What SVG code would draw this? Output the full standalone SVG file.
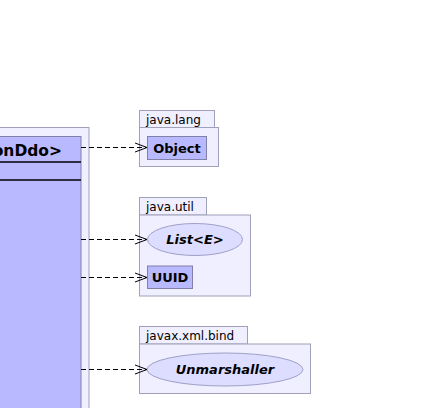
<svg xmlns="http://www.w3.org/2000/svg" width="423" height="408" viewBox="0 0 423 408">
<defs>
<style>
.pkg{fill:#EFEFFF;stroke:#A0A0B8;stroke-width:1}
.cls{fill:#B9B9FF;stroke:#8080A8;stroke-width:1}
.ell{fill:#DDDDFF;stroke:#A0A0C8;stroke-width:1}
.pt{font-family:"DejaVu Sans",sans-serif;font-size:12px;fill:#000}
.ct{font-family:"DejaVu Sans",sans-serif;font-size:13px;font-weight:bold;fill:#000}
.it{font-style:italic}
.dep{stroke:#000;stroke-width:1;stroke-dasharray:5,3;fill:none}
.head{stroke:#000;stroke-width:1;fill:none}
</style>
</defs>
<rect width="423" height="408" fill="#FFFFFF"/>
<g id="pkg-main">
<rect class="pkg" x="-5" y="127.5" width="94" height="290"/>
</g>
<g id="class-main">
<rect class="cls" x="-5" y="136.5" width="86" height="290"/>
<text x="62" y="156" text-anchor="end" font-family="DejaVu Sans,sans-serif" font-size="15.5" font-weight="bold">onDdo&gt;</text>
<line x1="-5" y1="162" x2="81" y2="162" stroke="#000" stroke-width="1.5"/>
<line x1="-5" y1="180" x2="81" y2="180" stroke="#000" stroke-width="1.5"/>
</g>
<g id="pkg-java-lang">
<rect class="pkg" x="139.5" y="110.5" width="75" height="17"/>
<rect class="pkg" x="139.5" y="127.5" width="79" height="39"/>
<text class="pt" x="146" y="124">java.lang</text>
</g>
<g id="node-object">
<rect class="cls" x="147.5" y="136.5" width="59" height="23"/>
<text class="ct" x="177" y="152.5" text-anchor="middle">Object</text>
</g>
<g id="pkg-java-util">
<rect class="pkg" x="139.5" y="197.5" width="67" height="17.5"/>
<rect class="pkg" x="139.5" y="215" width="111" height="81"/>
<text class="pt" x="146" y="211">java.util</text>
</g>
<g id="node-list">
<ellipse class="ell" cx="195" cy="239.5" rx="47.5" ry="16"/>
<text class="ct it" x="195" y="244" text-anchor="middle">List&lt;E&gt;</text>
</g>
<g id="node-uuid">
<rect class="cls" x="147.5" y="266" width="45" height="22.5"/>
<text class="ct" x="170" y="282" text-anchor="middle">UUID</text>
</g>
<g id="pkg-javax-xml-bind">
<rect class="pkg" x="139.5" y="326.5" width="108" height="17.5"/>
<rect class="pkg" x="139.5" y="344" width="171" height="49.5"/>
<text class="pt" x="146" y="340">javax.xml.bind</text>
</g>
<g id="node-unmarshaller">
<ellipse class="ell" cx="225" cy="369.5" rx="78" ry="16.5"/>
<text class="ct it" x="225" y="374" text-anchor="middle">Unmarshaller</text>
</g>
<g id="connectors">
<line class="dep" x1="81" y1="147.5" x2="147" y2="147.5"/>
<polyline class="head" points="135,143 147,147.5 135,152"/>
<line class="dep" x1="81" y1="239.5" x2="147" y2="239.5"/>
<polyline class="head" points="135,235 147,239.5 135,244"/>
<line class="dep" x1="81" y1="277.5" x2="147" y2="277.5"/>
<polyline class="head" points="135,273 147,277.5 135,282"/>
<line class="dep" x1="81" y1="369.5" x2="147" y2="369.5"/>
<polyline class="head" points="135,365 147,369.5 135,374"/>
</g>
</svg>
